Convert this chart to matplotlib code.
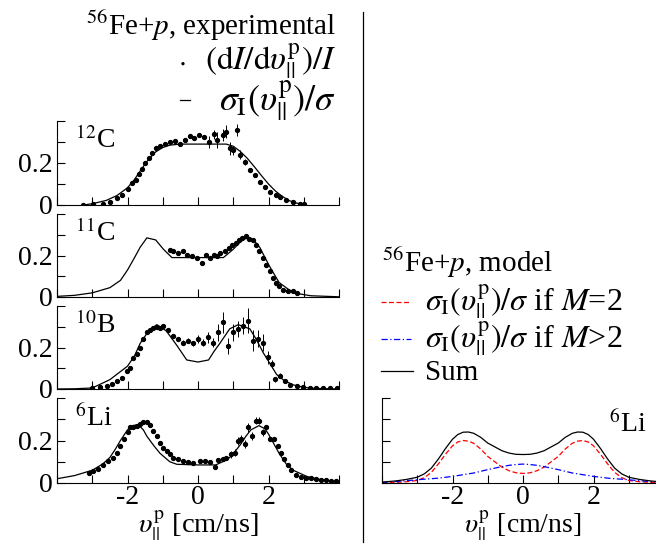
import matplotlib
matplotlib.use('Agg')
import matplotlib.pyplot as plt
from matplotlib.lines import Line2D

plt.rcParams['font.family'] = ['Liberation Serif', 'DejaVu Serif']
plt.rcParams['mathtext.fontset'] = 'stix'

# ---- 12C: experimental points and model curve
c12_x = [-3.25, -2.97, -2.7, -2.5, -2.3, -2.15, -2.0, -1.86, -1.77, -1.67, -1.58, -1.49, -1.4, -1.3, -1.2,
         -1.08, -0.94, -0.8, -0.66, -0.5, -0.37, -0.23, -0.1, 0.04, 0.18, 0.32, 0.46, 0.55, 0.7, 0.8,
         0.9, 1.0, 1.12, 1.2, 1.32, 1.48, 1.62, 1.77, 1.9, 2.03, 2.2, 2.32, 2.5, 2.7, 2.9, 3.0]
c12_y = [0.0, 0.003, 0.007, 0.016, 0.032, 0.048, 0.075, 0.103, 0.12, 0.15, 0.17, 0.2, 0.225, 0.25, 0.27,
         0.283, 0.29, 0.3, 0.305, 0.29, 0.31, 0.327, 0.317, 0.333, 0.325, 0.30, 0.336, 0.31, 0.333, 0.35,
         0.27, 0.26, 0.357, 0.24, 0.206, 0.167, 0.143, 0.11, 0.087, 0.063, 0.048, 0.037, 0.024, 0.013, 0.005, 0.003]
c12_e = [0.003, 0.003, 0.003, 0.003, 0.004, 0.004, 0.005, 0.005, 0.005, 0.006, 0.006, 0.006, 0.006, 0.006, 0.006,
         0.006, 0.006, 0.006, 0.007, 0.007, 0.007, 0.008, 0.008, 0.01, 0.01, 0.03, 0.02, 0.04, 0.03, 0.03,
         0.03, 0.02, 0.03, 0.02, 0.015, 0.01, 0.008, 0.006, 0.006, 0.005, 0.005, 0.004, 0.004, 0.003, 0.003, 0.003]
c12_cx = [-3.25, -3.0, -2.6, -2.3, -2.0, -1.8, -1.6, -1.4, -1.2, -1.0, -0.8, -0.5, 0.0, 0.5, 0.8, 1.0,
          1.2, 1.4, 1.6, 1.8, 2.0, 2.2, 2.4, 2.6, 2.8, 3.0]
c12_cy = [0.0, 0.006, 0.022, 0.045, 0.082, 0.122, 0.172, 0.218, 0.253, 0.274, 0.285, 0.29, 0.29, 0.29, 0.29, 0.28,
          0.255, 0.222, 0.182, 0.14, 0.1, 0.066, 0.04, 0.02, 0.009, 0.003]

# ---- 11C
c11_x = [-0.8, -0.7, -0.56, -0.42, -0.32, -0.18, -0.04, 0.1, 0.24, 0.34, 0.44, 0.53, 0.62, 0.77, 0.87, 0.97, 1.07,
         1.16, 1.26, 1.36, 1.45, 1.55, 1.64, 1.74, 1.83, 1.93, 2.03, 2.12, 2.2, 2.3, 2.4, 2.55, 2.7, 2.8]
c11_y = [0.228, 0.22, 0.21, 0.22, 0.204, 0.196, 0.188, 0.164, 0.204, 0.188, 0.204, 0.196, 0.212, 0.22, 0.236, 0.253,
         0.26, 0.277, 0.285, 0.293, 0.28, 0.274, 0.253, 0.22, 0.188, 0.156, 0.124, 0.092, 0.068, 0.052, 0.035, 0.027,
         0.027, 0.02]
c11_e = [0.008, 0.008, 0.008, 0.008, 0.008, 0.008, 0.008, 0.008, 0.008, 0.008, 0.008, 0.008, 0.008, 0.008, 0.008,
         0.008, 0.008, 0.008, 0.008, 0.008, 0.008, 0.008, 0.008, 0.008, 0.008, 0.008, 0.008, 0.006, 0.006, 0.006,
         0.005, 0.005, 0.005, 0.005]
c11_cx = [-4.0, -3.5, -3.0, -2.5, -2.2, -2.0, -1.8, -1.64, -1.45, -1.2, -0.98, -0.74, -0.4, 0.0, 0.4, 0.72, 1.0,
          1.2, 1.33, 1.45, 1.6, 1.75, 1.9, 2.04, 2.3, 2.7, 3.2, 4.0]
c11_cy = [0.003, 0.008, 0.02, 0.045, 0.08, 0.13, 0.19, 0.24, 0.285, 0.275, 0.23, 0.19, 0.19, 0.19, 0.19, 0.19, 0.23,
          0.265, 0.28, 0.285, 0.27, 0.24, 0.19, 0.145, 0.07, 0.02, 0.006, 0.001]

# ---- 10B
b10_x = [-3.02, -2.77, -2.59, -2.45, -2.3, -2.16, -2.02, -1.93, -1.83, -1.74, -1.64, -1.55, -1.45, -1.36, -1.27,
         -1.17, -1.08, -0.98, -0.84, -0.7, -0.56, -0.42, -0.28, -0.13, 0.0, 0.15, 0.29, 0.43, 0.57, 0.71, 0.85,
         0.99, 1.14, 1.28, 1.42, 1.57, 1.71, 1.85, 1.99, 2.09, 2.18, 2.32, 2.46, 2.61, 2.8, 2.99, 3.17, 3.36,
         3.55, 3.74, 3.93]
b10_y = [0.005, 0.01, 0.016, 0.026, 0.037, 0.054, 0.086, 0.103, 0.147, 0.168, 0.2, 0.24, 0.273, 0.286, 0.293,
         0.298, 0.293, 0.303, 0.286, 0.257, 0.24, 0.224, 0.232, 0.221, 0.24, 0.224, 0.249, 0.224, 0.273, 0.322,
         0.208, 0.273, 0.29, 0.306, 0.33, 0.232, 0.243, 0.224, 0.152, 0.119, 0.046, 0.065, 0.037, 0.021, 0.016,
         0.01, 0.005, 0.004, 0.003, 0.003, 0.003]
b10_e = [0.003, 0.003, 0.003, 0.004, 0.004, 0.005, 0.006, 0.006, 0.007, 0.007, 0.008, 0.008, 0.008, 0.008, 0.008,
         0.008, 0.008, 0.008, 0.008, 0.008, 0.01, 0.01, 0.012, 0.012, 0.02, 0.015, 0.025, 0.02, 0.04, 0.05,
         0.04, 0.04, 0.04, 0.04, 0.06, 0.05, 0.04, 0.04, 0.03, 0.02, 0.01, 0.01, 0.008, 0.006, 0.005,
         0.004, 0.003, 0.003, 0.003, 0.003, 0.003]
b10_cx = [-4.0, -3.5, -3.0, -2.5, -2.0, -1.8, -1.64, -1.4, -1.17, -0.9, -0.6, -0.32, 0.0, 0.3, 0.45, 0.62, 0.9,
          1.14, 1.47, 1.65, 1.85, 2.05, 2.23, 2.45, 2.7, 3.0, 3.3, 4.0]
b10_cy = [0.0, 0.001, 0.005, 0.045, 0.11, 0.16, 0.22, 0.28, 0.31, 0.28, 0.21, 0.14, 0.13, 0.14, 0.18, 0.22, 0.29,
          0.31, 0.29, 0.24, 0.175, 0.12, 0.07, 0.04, 0.02, 0.008, 0.003, 0.0]

# ---- 6Li
li6_x = [-3.1, -2.97, -2.83, -2.69, -2.55, -2.41, -2.3, -2.2, -2.1, -2.0, -1.93, -1.83, -1.74, -1.64, -1.55,
         -1.45, -1.36, -1.27, -1.17, -1.08, -0.98, -0.89, -0.8, -0.7, -0.56, -0.42, -0.28, -0.13, 0.05, 0.2,
         0.33, 0.47, 0.57, 0.71, 0.8, 0.94, 1.04, 1.14, 1.23, 1.32, 1.42, 1.54, 1.65, 1.74, 1.84, 1.93, 2.04,
         2.16, 2.26, 2.35, 2.45, 2.55, 2.64, 2.78, 2.92, 3.07, 3.21, 3.35, 3.49, 3.63, 3.77, 3.91]
li6_y = [0.048, 0.056, 0.067, 0.083, 0.103, 0.119, 0.143, 0.175, 0.206, 0.238, 0.262, 0.265, 0.267, 0.278, 0.289,
         0.286, 0.273, 0.246, 0.222, 0.19, 0.167, 0.151, 0.135, 0.119, 0.111, 0.103, 0.098, 0.095, 0.103, 0.103,
         0.098, 0.076, 0.108, 0.111, 0.119, 0.135, 0.143, 0.198, 0.206, 0.183, 0.262, 0.222, 0.294, 0.294, 0.238,
         0.262, 0.206, 0.206, 0.175, 0.143, 0.111, 0.087, 0.063, 0.04, 0.029, 0.024, 0.024, 0.019, 0.016, 0.013,
         0.011, 0.008]
li6_e = [0.004, 0.004, 0.004, 0.004, 0.004, 0.004, 0.004, 0.004, 0.004, 0.004, 0.004, 0.004, 0.004, 0.004, 0.004,
         0.004, 0.004, 0.004, 0.004, 0.004, 0.004, 0.004, 0.004, 0.004, 0.004, 0.004, 0.004, 0.004, 0.004, 0.004,
         0.004, 0.004, 0.006, 0.006, 0.008, 0.015, 0.015, 0.02, 0.02, 0.02, 0.02, 0.02, 0.015, 0.015, 0.015,
         0.01, 0.01, 0.006, 0.006, 0.005, 0.005, 0.004, 0.004, 0.004, 0.004, 0.004, 0.004, 0.004, 0.004, 0.004,
         0.004, 0.004]
li6_cx = [-4.0, -3.5, -3.0, -2.7, -2.5, -2.35, -2.2, -2.0, -1.85, -1.7, -1.55, -1.45, -1.25, -1.08, -0.8, -0.6,
          0.0, 0.5, 0.7, 0.9, 1.05, 1.2, 1.35, 1.5, 1.73, 1.9, 2.0, 2.15, 2.3, 2.5, 2.7, 3.1, 3.5, 4.0]
li6_cy = [0.02, 0.035, 0.06, 0.09, 0.12, 0.158, 0.2, 0.25, 0.27, 0.275, 0.25, 0.22, 0.175, 0.14, 0.1, 0.088,
          0.085, 0.085, 0.1, 0.12, 0.148, 0.18, 0.218, 0.25, 0.27, 0.255, 0.23, 0.185, 0.14, 0.09, 0.06, 0.03,
          0.015, 0.005]

# ---- 6Li model (right panel)
model_x = [-4.0, -3.6, -3.3, -3.0, -2.8, -2.6, -2.4, -2.2, -2.0, -1.85, -1.7, -1.55, -1.4, -1.2, -1.0, -0.8, -0.6,
           -0.4, -0.2, 0.0, 0.2, 0.4, 0.6, 0.8, 1.0, 1.2, 1.4, 1.55, 1.7, 1.85, 2.0, 2.2, 2.4, 2.6, 2.8, 3.0,
           3.3, 3.6, 4.0]
model_m2 = [0.001, 0.003, 0.006, 0.012, 0.025, 0.05, 0.09, 0.135, 0.175, 0.193, 0.2, 0.197, 0.187, 0.16, 0.125,
            0.1, 0.075, 0.058, 0.048, 0.045, 0.048, 0.058, 0.075, 0.1, 0.125, 0.16, 0.187, 0.197, 0.2, 0.193,
            0.175, 0.135, 0.09, 0.05, 0.025, 0.012, 0.006, 0.003, 0.001]
model_mgt2 = [0.003, 0.007, 0.011, 0.015, 0.018, 0.02, 0.023, 0.027, 0.031, 0.035, 0.039, 0.043, 0.047, 0.055,
              0.063, 0.07, 0.077, 0.083, 0.087, 0.089, 0.087, 0.083, 0.077, 0.07, 0.063, 0.055, 0.047, 0.043,
              0.039, 0.035, 0.031, 0.027, 0.023, 0.02, 0.018, 0.015, 0.011, 0.007, 0.003]

panels = [
    (r'$^{12}$C', c12_x, c12_y, c12_e, c12_cx, c12_cy, 121, 205),
    (r'$^{11}$C', c11_x, c11_y, c11_e, c11_cx, c11_cy, 214, 297),
    (r'$^{10}$B', b10_x, b10_y, b10_e, b10_cx, b10_cy, 306, 389),
    (r'$^{6}$Li', li6_x, li6_y, li6_e, li6_cx, li6_cy, 398, 483),
]

W, H = 656, 544
FS = 20
fig = plt.figure(figsize=(W / 100, H / 100), dpi=100)


def fx(px):
    return px / W


def fy(py):
    return 1 - py / H


def style(ax, ylabels=True, xlabels=False):
    ax.set_xlim(-4, 4)
    ax.set_ylim(0, 0.4)
    ax.spines['top'].set_visible(False)
    ax.spines['right'].set_visible(False)
    ax.set_xticks(range(-4, 5))
    ax.set_xticklabels(['', '', '-2', '', '0', '', '2', '', ''] if xlabels else [])
    ax.set_yticks([0, 0.1, 0.2, 0.3, 0.4])
    ax.set_yticklabels(['0', '', '0.2', '', ''] if ylabels else [])
    ax.tick_params(direction='in', length=6, width=0.8, labelsize=FS, pad=3)
    ax.tick_params(axis='x', pad=1.5)


for i, (name, x, y, e, cx, cy, top, bot) in enumerate(panels):
    ax = fig.add_axes([fx(57), fy(bot), fx(282), (bot - top) / H])
    style(ax, xlabels=(i == 3))
    ax.plot(cx, cy, color='black', lw=0.9)
    ax.errorbar(x, y, yerr=e, fmt='o', color='black', ms=2.8, elinewidth=0.7, capsize=0)
    ax.text(0.065, 0.93, name, transform=ax.transAxes, ha='left', va='top', fontsize=FS)

# right panel: model
axm = fig.add_axes([fx(382), fy(483), fx(282), 85 / H])
style(axm, ylabels=False, xlabels=True)
model_sum = [a + b for a, b in zip(model_m2, model_mgt2)]
axm.plot(model_x, model_m2, color='red', ls=(0, (4, 2)), lw=0.9)
axm.plot(model_x, model_mgt2, color='blue', ls=(0, (5, 2, 1, 2)), lw=0.9)
axm.plot(model_x, model_sum, color='black', lw=0.9)
axm.text(0.94, 0.85, r'$^{6}$Li', transform=axm.transAxes, ha='right', va='top', fontsize=FS)

# x labels
xlab = r'$\upsilon^{\mathrm{p}}_{||}$ [cm/ns]'
fig.text(fx(198), fy(534), xlab, ha='center', va='baseline', fontsize=20.5)
fig.text(fx(523), fy(534), xlab, ha='center', va='baseline', fontsize=20)

# divider
fig.add_artist(Line2D([fx(363), fx(363)], [fy(12), fy(542)], color='black', lw=0.9))

# experimental legend (top left)
fig.text(fx(336), fy(35), r'$^{56}$Fe+$p$, experimental', ha='right', va='baseline', fontsize=21)
fig.text(fx(336), fy(70), r'$(\mathrm{d}I/\mathrm{d}\upsilon^{\mathrm{p}}_{||})/I$', ha='right',
         va='baseline', fontsize=24)
fig.text(fx(182), fy(63), r'$\cdot$', ha='center', va='center', fontsize=FS)
fig.text(fx(336), fy(110), r'$\sigma_{\mathrm{I}}(\upsilon^{\mathrm{p}}_{||})/\sigma$', ha='right',
         va='baseline', fontsize=26)
fig.add_artist(Line2D([fx(180), fx(190)], [fy(100), fy(100)], color='black', lw=0.9))

# model legend (right)
fig.text(fx(382), fy(272), r'$^{56}$Fe+$p$, model', ha='left', va='baseline', fontsize=21)
fig.add_artist(Line2D([fx(381), fx(411)], [fy(302), fy(302)], color='red', ls=(0, (4, 2)), lw=0.9))
fig.add_artist(Line2D([fx(381), fx(411)], [fy(339), fy(339)], color='blue', ls=(0, (5, 2, 1, 2)), lw=0.9))
fig.add_artist(Line2D([fx(381), fx(413)], [fy(371), fy(371)], color='black', lw=0.9))
fig.text(fx(425), fy(311), r'$\sigma_{\mathrm{I}}(\upsilon^{\mathrm{p}}_{||})/\sigma$ if $M$=2', ha='left',
         va='baseline', fontsize=23)
fig.text(fx(425), fy(348), r'$\sigma_{\mathrm{I}}(\upsilon^{\mathrm{p}}_{||})/\sigma$ if $M$>2', ha='left',
         va='baseline', fontsize=23)
fig.text(fx(425), fy(380), 'Sum', ha='left', va='baseline', fontsize=21)

fig.savefig('out.png', dpi=100)
